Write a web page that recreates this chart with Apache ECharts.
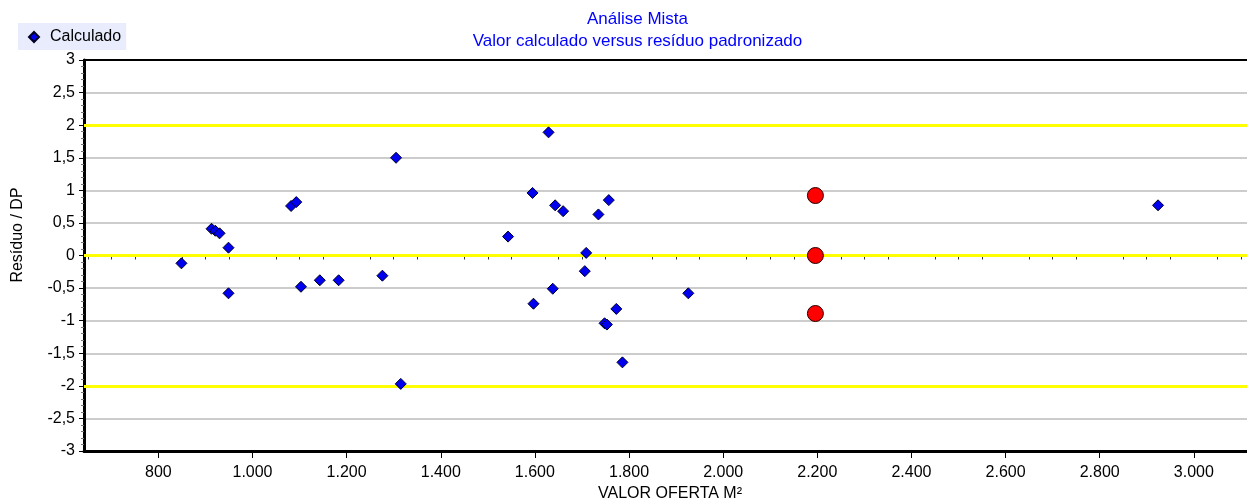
<!DOCTYPE html>
<html><head><meta charset="utf-8">
<script src="https://cdn.jsdelivr.net/npm/echarts@6/dist/echarts.min.js"></script>
<style>html,body{margin:0;padding:0;background:#fff}#c{width:1247px;height:502px}</style>
</head><body><div id="c"></div>
<script>
const calcX = [849, 913, 921, 930, 949, 949, 1082, 1093, 1103, 1143, 1183, 1276, 1305, 1315, 1543, 1595, 1597, 1629, 1638, 1643, 1660, 1706, 1709, 1735, 1748, 1753, 1757, 1773, 1786, 1926, 2924];
const calcY = [-0.12, 0.41, 0.38, 0.34, 0.12, -0.58, 0.76, 0.82, -0.48, -0.38, -0.38, -0.31, 1.50, -1.97, 0.29, 0.96, -0.74, 1.89, -0.51, 0.77, 0.68, -0.24, 0.04, 0.63, -1.04, -1.06, 0.85, -0.82, -1.64, -0.58, 0.77];
const projX = [2196, 2196, 2196];
const projY = [0.92, 0.00, -0.89];
const refLines = [2, 0, -2];
const xTicks = [800, 1000, 1200, 1400, 1600, 1800, 2000, 2200, 2400, 2600, 2800, 3000];
const xMinorTicks = [650, 700, 750, 850, 900, 950, 1050, 1100, 1150, 1250, 1300, 1350, 1450, 1500, 1550, 1650, 1700, 1750, 1850, 1900, 1950, 2050, 2100, 2150, 2250, 2300, 2350, 2450, 2500, 2550, 2650, 2700, 2750, 2850, 2900, 2950, 3050, 3100];

const FONT = 'Liberation Sans';
const XMIN = 642, XMAX = 3113;
const fmtX = v => String(v).replace(/\B(?=(\d{3})+(?!\d))/g, '.');
const fmtY = v => String(v).replace('.', ',');

const chart = echarts.init(document.getElementById('c'), null, {renderer: 'canvas'});
chart.setOption({
  animation: false,
  backgroundColor: '#fff',
  textStyle: {fontFamily: FONT},
  legend: {
    data: ['Calculado'], left: 18, top: 23, orient: 'horizontal',
    backgroundColor: '#e8ecfc', padding: [6, 5, 5, 10],
    itemWidth: 10, itemHeight: 10, itemGap: 5,
    textStyle: {fontSize: 16, color: '#000', fontFamily: FONT, padding: [0, 0, 0, 6]}
  },
  grid: {left: 84, right: 0, top: 60, bottom: 51, containLabel: false, outerBoundsMode: 'none'},
  xAxis: [{
    type: 'value', min: XMIN, max: XMAX, position: 'bottom',
    name: 'VALOR OFERTA M²', nameLocation: 'middle', nameGap: 35,
    nameTextStyle: {fontSize: 16, color: '#000', fontFamily: FONT, padding: [0, 0, 0, 9]},
    axisLine: {show: true, onZero: false, lineStyle: {color: '#000', width: 3}},
    axisTick: {show: true, customValues: xTicks, length: 7, lineStyle: {color: '#000', width: 1}},
    axisLabel: {show: true, customValues: xTicks, formatter: fmtX, fontSize: 16, color: '#000', margin: 14, fontFamily: FONT},
    splitLine: {show: false}
  }, {
    type: 'value', min: XMIN, max: XMAX, position: 'bottom',
    axisLine: {show: false},
    axisTick: {show: true, customValues: xMinorTicks, length: 4, lineStyle: {color: '#333', width: 1}},
    axisLabel: {show: false},
    splitLine: {show: false}
  }, {
    type: 'value', min: XMIN, max: XMAX, position: 'top',
    axisLine: {show: true, onZero: false, lineStyle: {color: '#000', width: 2}},
    axisTick: {show: false}, axisLabel: {show: false}, splitLine: {show: false}
  }],
  yAxis: {
    type: 'value', min: -3, max: 3, interval: 0.5,
    axisLine: {show: true, onZero: false, lineStyle: {color: '#000', width: 3}},
    axisTick: {show: true, length: 5, lineStyle: {color: '#000'}},
    minorTick: {show: true, splitNumber: 5, length: 3, lineStyle: {color: '#777'}},
    axisLabel: {formatter: fmtY, fontSize: 16, color: '#000', margin: 9, fontFamily: FONT},
    splitLine: {show: true, lineStyle: {color: '#cccccc', width: 2}}
  },
  graphic: [{
    type: 'text', x: 637.5, y: 19,
    style: {text: 'Análise Mista', font: '17px "Liberation Sans"', fill: '#0000ff', align: 'center', verticalAlign: 'middle'}
  }, {
    type: 'text', x: 637.5, y: 41.5,
    style: {text: 'Valor calculado versus resíduo padronizado', font: '17px "Liberation Sans"', fill: '#0000ff', align: 'center', verticalAlign: 'middle'}
  }, {
    type: 'text', x: 18, y: 235, rotation: Math.PI / 2,
    style: {text: 'Resíduo / DP', font: '16px "Liberation Sans"', fill: '#000', align: 'center', verticalAlign: 'middle'}
  }],
  series: [{
    name: 'Calculado', type: 'scatter', xAxisIndex: 0,
    data: calcX.map((x, i) => [x, calcY[i]]),
    symbol: 'diamond', symbolSize: 11,
    itemStyle: {color: '#0000ee', borderColor: '#000022', borderWidth: 1, opacity: 1},
    z: 5,
    markLine: {
      silent: true, symbol: 'none', label: {show: false}, z: 3,
      lineStyle: {color: '#ffff00', width: 3, type: 'solid', opacity: 1},
      emphasis: {disabled: true},
      data: refLines.map(v => ({yAxis: v}))
    }
  }, {
    name: 'Projetado', type: 'scatter', xAxisIndex: 0,
    data: projX.map((x, i) => [x, projY[i]]),
    symbol: 'circle', symbolSize: 16,
    itemStyle: {color: '#ff0000', borderColor: '#220000', borderWidth: 1, opacity: 1},
    z: 6
  }]
});
</script>
</body></html>
